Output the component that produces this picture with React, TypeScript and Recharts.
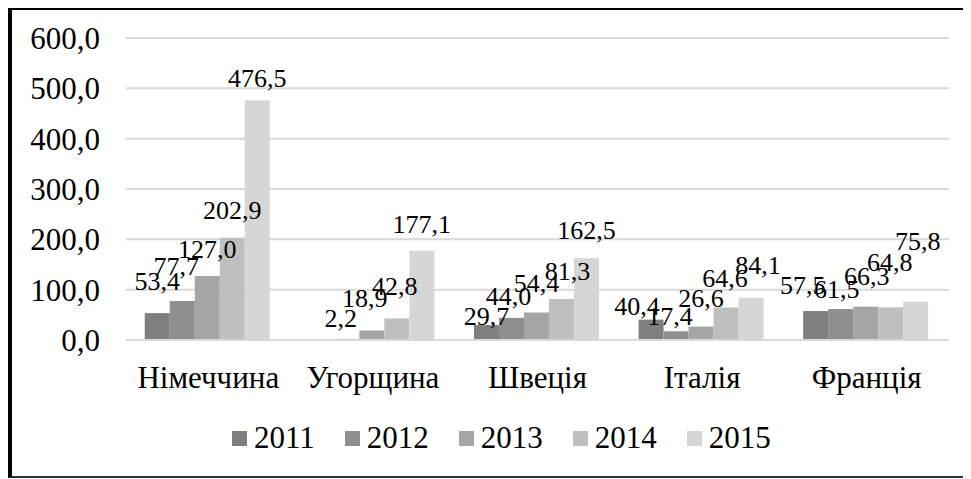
import React from 'react';
import { BarChart, Bar, XAxis, YAxis, CartesianGrid, Legend, LabelList } from 'recharts';

const categories = ['Німеччина', 'Угорщина', 'Швеція', 'Італія', 'Франція'];
const v2011 = [53.4, null, 29.7, 40.4, 57.5];
const v2012 = [77.7, 2.2, 44.0, 17.4, 61.5];
const v2013 = [127.0, 18.9, 54.4, 26.6, 66.3];
const v2014 = [202.9, 42.8, 81.3, 64.6, 64.8];
const v2015 = [476.5, 177.1, 162.5, 84.1, 75.8];
const yTicks = [0, 100, 200, 300, 400, 500, 600];

const seriesKeys = ['2011', '2012', '2013', '2014', '2015'];
const seriesValues = [v2011, v2012, v2013, v2014, v2015];
const colors = ['#7f7f7f', '#8f8f8f', '#a5a5a5', '#bfbfbf', '#d6d6d6'];

// label nudges (style only): lift above bar top, horizontal shift
const labelLift = [
  [23, 0, 5, 17, 8],
  [26, 12, 13, 6, 11],
  [18, 23, 21, 20, 22],
  [19, 23, 19, 20, 36],
  [13, 18, 19, 24, 52],
];
const labelShift = [
  [0, 0, -14, -13, -16],
  [-6, -6, -3, -6, -4],
  [0, -7, 0, 0, 1],
  [0, -2, 6, -1, -1],
  [0, 0, 0, 7, 2],
];

const data = categories.map((c, i) => {
  const row: Record<string, any> = { name: c };
  seriesKeys.forEach((k, j) => {
    row[k] = seriesValues[j][i];
  });
  return row;
});

const fmt = (v: any) => (v === null || v === undefined ? '' : Number(v).toFixed(1).replace('.', ','));
const FONT = 'Liberation Serif, DejaVu Serif, serif';

const makeLabel = (j: number) => (props: any) => {
  const { x, y, width, value, index } = props;
  if (value === null || value === undefined) return null;
  const cx = Number(x) + Number(width) / 2 + labelShift[j][index];
  const by = Number(y) - labelLift[j][index];
  return (
    <text x={cx} y={by} textAnchor="middle" fontSize={26} fontFamily={FONT} fill="#000">
      {fmt(value)}
    </text>
  );
};

const LegendContent = () => (
  <div style={{ display: 'flex', alignItems: 'center', height: 40, fontFamily: FONT, fontSize: 31, lineHeight: '40px', color: '#000' }}>
    {seriesKeys.map((k, j) => (
      <div key={k} style={{ display: 'flex', alignItems: 'center', marginRight: 30 }}>
        <span style={{ display: 'inline-block', width: 15, height: 15, background: colors[j], marginRight: 7 }} />
        <span>{k}</span>
      </div>
    ))}
  </div>
);

export default function App() {
  return (
    <div
      style={{
        width: 963,
        height: 472,
        marginTop: -2,
        boxSizing: 'border-box',
        borderLeft: '4px solid #000',
        borderTop: '4px solid #000',
        borderBottom: '2px solid #333',
        background: '#fff',
        fontFamily: FONT,
      }}
    >
      <BarChart
        width={959}
        height={466}
        data={data}
        margin={{ top: 28, right: 22, left: 0, bottom: 36 }}
        barCategoryGap="11.4%"
        barGap={0}
      >
        <CartesianGrid horizontal={true} vertical={false} stroke="#d9d9d9" strokeWidth={2} />
        <XAxis
          dataKey="name"
          height={60}
          tickLine={false}
          tickSize={0}
          tickMargin={26}
          axisLine={{ stroke: '#d9d9d9', strokeWidth: 2 }}
          tick={{ fill: '#000', fontSize: 31, fontFamily: FONT }}
          interval={0}
        />
        <YAxis
          width={114}
          domain={[0, 600]}
          ticks={yTicks}
          tickFormatter={fmt}
          axisLine={false}
          tickLine={false}
          tickSize={0}
          tickMargin={26}
          tick={{ fill: '#000', fontSize: 31, fontFamily: FONT }}
        />
        <Legend
          verticalAlign="bottom"
          content={<LegendContent />}
          wrapperStyle={{ position: 'absolute', left: 220, top: 408, width: 720, height: 40 }}
        />
        {seriesKeys.map((k, j) => (
          <Bar key={k} dataKey={k} fill={colors[j]} isAnimationActive={false}>
            <LabelList dataKey={k} content={makeLabel(j)} />
          </Bar>
        ))}
      </BarChart>
    </div>
  );
}
